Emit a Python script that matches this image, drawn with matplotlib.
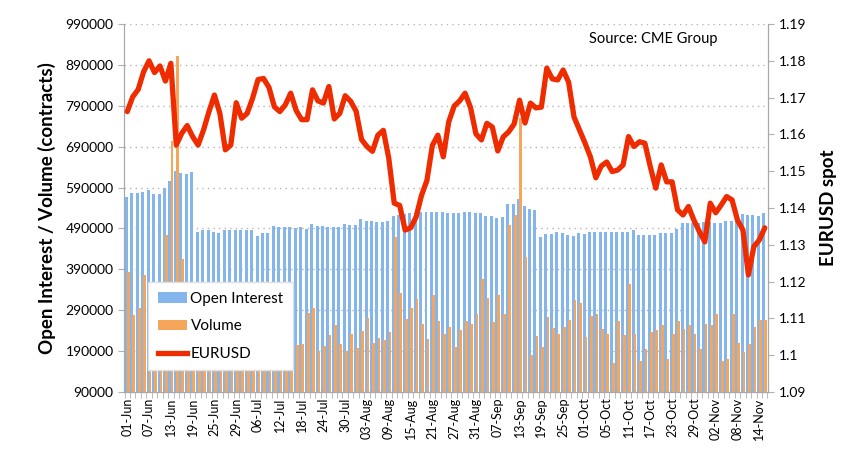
import matplotlib.pyplot as plt
import numpy as np
from matplotlib.patches import Patch
from matplotlib.lines import Line2D

plt.rcParams['font.family'] = ['Lato', 'DejaVu Sans']

date_labels = ['01-Jun', '07-Jun', '13-Jun', '19-Jun', '25-Jun', '29-Jun', '06-Jul', '12-Jul',
               '18-Jul', '24-Jul', '30-Jul', '03-Aug', '09-Aug', '15-Aug', '21-Aug', '27-Aug',
               '31-Aug', '07-Sep', '13-Sep', '19-Sep', '25-Sep', '01-Oct', '05-Oct', '11-Oct',
               '17-Oct', '23-Oct', '29-Oct', '02-Nov', '08-Nov', '14-Nov']

# thousands of contracts
open_interest = [566, 576, 576, 578, 584, 574, 574, 590, 606, 630, 626, 623, 627,
                 482, 485, 485, 482, 480, 485, 485, 485, 486, 486, 486, 472, 480, 478,
                 497, 493, 493, 493, 490, 493, 489, 501, 496, 496, 494, 494, 494, 501,
                 498, 498, 512, 507, 509, 505, 505, 509, 520, 523, 525, 527, 527, 531,
                 531, 531, 531, 531, 527, 527, 527, 529, 531, 527, 527, 521, 521, 515,
                 519, 550, 550, 562, 544, 538, 534, 468, 477, 477, 481, 478, 474, 472,
                 478, 476, 481, 482, 481, 482, 482, 482, 482, 481, 486, 474, 473, 473,
                 474, 478, 478, 480, 488, 503, 504, 504, 504, 505, 505, 503, 504, 509,
                 509, 519, 525, 523, 523, 521, 527]

volume = [384, 278, 296, 375, 260, 210, 240, 473, 705, 912, 415, 300, 280,
          230, 190, 215, 250, 180, 205, 235, 260, 190, 215, 245, 200, 225, 180,
          265, 210, 240, 230, 205, 207, 284, 296, 191, 203, 229, 254, 207, 191,
          232, 198, 238, 272, 211, 221, 217, 236, 468, 332, 269, 296, 318, 257,
          220, 328, 264, 232, 248, 201, 241, 263, 257, 280, 367, 320, 260, 326,
          280, 498, 523, 760, 419, 180, 227, 201, 273, 246, 232, 249, 267, 316,
          307, 225, 275, 280, 243, 232, 162, 264, 229, 355, 232, 167, 196, 237,
          241, 255, 171, 232, 263, 243, 255, 231, 196, 257, 255, 280, 167, 171,
          280, 211, 188, 207, 250, 267, 267]

eurusd = [1.1662, 1.1702, 1.1722, 1.1770, 1.1800, 1.1768, 1.1786, 1.1745, 1.1793, 1.1571,
          1.1603, 1.1624, 1.1594, 1.1571, 1.1612, 1.1662, 1.1707, 1.1657, 1.1558, 1.1571,
          1.1686, 1.1644, 1.1657, 1.1698, 1.1749, 1.1752, 1.1728, 1.1675, 1.1662, 1.1680,
          1.1712, 1.1665, 1.1640, 1.1640, 1.1721, 1.1691, 1.1685, 1.1730, 1.1642, 1.1657,
          1.1705, 1.1690, 1.1663, 1.1586, 1.1567, 1.1554, 1.1598, 1.1611, 1.1535, 1.1413,
          1.1407, 1.1340, 1.1346, 1.1375, 1.1434, 1.1475, 1.1570, 1.1598, 1.1539, 1.1634,
          1.1677, 1.1691, 1.1712, 1.1673, 1.1601, 1.1585, 1.1630, 1.1620, 1.1555, 1.1593,
          1.1607, 1.1628, 1.1693, 1.1631, 1.1685, 1.1672, 1.1674, 1.1780, 1.1751, 1.1748,
          1.1775, 1.1742, 1.1647, 1.1612, 1.1577, 1.1539, 1.1482, 1.1514, 1.1525, 1.1499,
          1.1503, 1.1517, 1.1594, 1.1567, 1.1580, 1.1576, 1.1512, 1.1454, 1.1517, 1.1471,
          1.1471, 1.1395, 1.1381, 1.1404, 1.1367, 1.1336, 1.1308, 1.1413, 1.1387, 1.1408,
          1.1431, 1.1422, 1.1367, 1.1340, 1.1218, 1.1295, 1.1313, 1.1346]

n = len(open_interest)
x = np.arange(n)
oi = np.array(open_interest) * 1000
vol = np.array(volume) * 1000

fig = plt.figure(figsize=(8.64, 4.76), dpi=100)
ax = fig.add_axes([0.1435, 0.1765, 0.7454, 0.7731])

ax.bar(x - 0.17, oi, width=0.55, color='#84b6ed', zorder=2)
ax.bar(x + 0.2, vol, width=0.5, color='#f5a65b', zorder=3)

ax.set_ylim(90000, 990000)
ax.set_yticks(range(90000, 990001, 100000))
ax.set_xlim(-0.6, n - 0.4)
ax.grid(axis='y', linestyle=(0, (1, 3)), color='#b5b5b5', linewidth=1, zorder=0)
ax.set_axisbelow(True)

ax.set_xticks(x[::4])
ax.set_xticklabels(date_labels, rotation=90, fontsize=9)
ax.set_xticks(np.arange(-0.5, n, 1), minor=True)
ax.tick_params(axis='x', which='major', length=0, pad=4)
ax.tick_params(axis='x', which='minor', length=4, color='#b0b0b0')
ax.tick_params(axis='y', labelsize=10, length=4, color='#b0b0b0')

for s in ['left', 'bottom', 'right']:
    ax.spines[s].set_color('#a8a8a8')
ax.spines['top'].set_visible(False)

ax.set_ylabel('Open Interest / Volume (contracts)', fontsize=13.5, fontweight='bold', labelpad=7)

ax2 = ax.twinx()
ax2.plot(x, eurusd, color='#ef2b00', lw=3.8, solid_joinstyle='round', solid_capstyle='round', zorder=5)
ax2.set_ylim(1.09, 1.19)
rticks = [1.09, 1.10, 1.11, 1.12, 1.13, 1.14, 1.15, 1.16, 1.17, 1.18, 1.19]
ax2.set_yticks(rticks)
ax2.set_yticklabels(['1.09', '1.1', '1.11', '1.12', '1.13', '1.14', '1.15', '1.16', '1.17', '1.18', '1.19'])
ax2.tick_params(axis='y', labelsize=10, length=4, color='#b0b0b0')
for s in ['left', 'bottom', 'right']:
    ax2.spines[s].set_color('#a8a8a8')
ax2.spines['top'].set_visible(False)
ax2.set_ylabel('EURUSD spot', fontsize=13.5, fontweight='bold', labelpad=10)

handles = [Patch(facecolor='#84b6ed'), Patch(facecolor='#f5a65b'),
           Line2D([], [], color='#ef2b00', lw=3.8)]
leg = ax2.legend(handles, ['Open Interest', 'Volume', 'EURUSD'], loc='lower left',
                 bbox_to_anchor=(0.163, 0.206), bbox_transform=fig.transFigure,
                 fontsize=11, frameon=True, fancybox=False, edgecolor='#e0e0e0',
                 framealpha=1, handlelength=1.9, labelspacing=0.9, borderpad=0.6,
                 handletextpad=0.25)
leg.set_zorder(10)

fig.text(0.756, 0.918, 'Source: CME Group', fontsize=10.5, ha='center', va='center')

fig.savefig('out.png', dpi=100)
